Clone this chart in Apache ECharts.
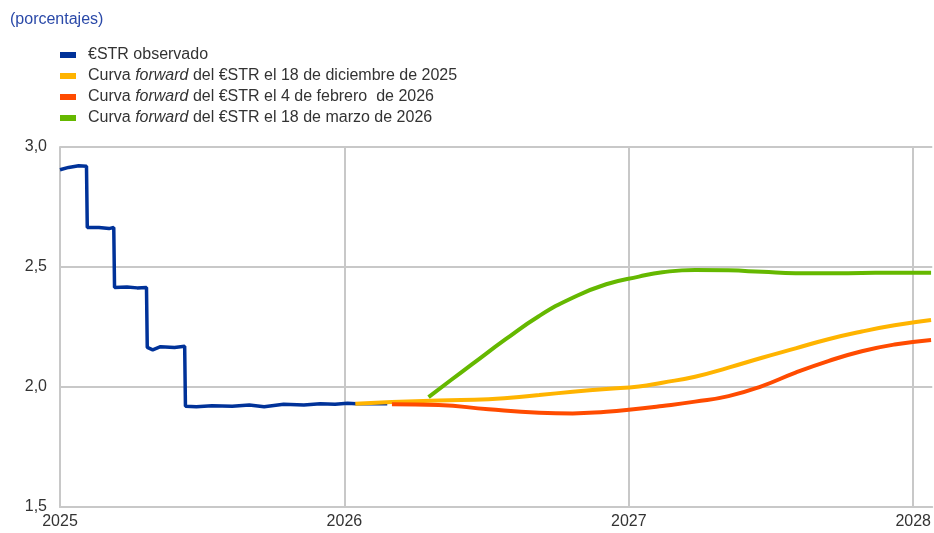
<!DOCTYPE html>
<html>
<head>
    <meta charset="utf-8">
    <title>ESTR</title>
    <script src="https://cdn.jsdelivr.net/npm/echarts@6/dist/echarts.min.js"></script>
</head>
<body style="margin:0">
    <div id="main" style="width:934px;height:533px;"></div>
    <script type="text/javascript">
        // nombres de las series
        var seriesNames = [
            '€STR observado',
            'Curva forward del €STR el 18 de diciembre de 2025',
            'Curva forward del €STR el 4 de febrero  de 2026',
            'Curva forward del €STR el 18 de marzo de 2026'
        ];
        var yearTicks = [2025, 2026, 2027, 2028];

        // €STR observado (fecha, %)
        var observado = [
            ['2025-01-01', 2.905], ['2025-01-12', 2.915], ['2025-01-25', 2.922], ['2025-02-04', 2.92],
            ['2025-02-05', 2.665], ['2025-02-20', 2.665], ['2025-03-05', 2.66], ['2025-03-11', 2.665],
            ['2025-03-12', 2.415], ['2025-03-28', 2.417], ['2025-04-10', 2.413], ['2025-04-22', 2.415],
            ['2025-04-23', 2.165], ['2025-04-30', 2.155], ['2025-05-10', 2.168], ['2025-05-28', 2.165], ['2025-06-10', 2.17],
            ['2025-06-11', 1.92], ['2025-06-25', 1.918], ['2025-07-15', 1.922], ['2025-08-10', 1.92],
            ['2025-09-01', 1.925], ['2025-09-20', 1.918], ['2025-10-15', 1.928], ['2025-11-10', 1.925],
            ['2025-12-01', 1.93], ['2025-12-20', 1.928], ['2026-01-05', 1.932], ['2026-01-16', 1.93],
            ['2026-02-25', 1.93]
        ];

        // curva forward 18 dic 2025
        var fwdDic = [
            ['2026-01-15', 1.93], ['2026-03-03', 1.937], ['2026-05-02', 1.944], ['2026-07-05', 1.949],
            ['2026-09-08', 1.967], ['2026-10-21', 1.98], ['2026-12-03', 1.992], ['2027-01-14', 2.002],
            ['2027-02-13', 2.018], ['2027-03-27', 2.043], ['2027-05-09', 2.081], ['2027-06-21', 2.122],
            ['2027-08-03', 2.161], ['2027-09-14', 2.199], ['2027-10-27', 2.231], ['2027-12-08', 2.257],
            ['2028-01-24', 2.279]
        ];

        // curva forward 4 feb 2026
        var fwdFeb = [
            ['2026-03-03', 1.928], ['2026-05-02', 1.925], ['2026-07-05', 1.907], ['2026-09-08', 1.893],
            ['2026-10-21', 1.89], ['2026-12-03', 1.897], ['2027-01-01', 1.905], ['2027-02-13', 1.921],
            ['2027-03-27', 1.939], ['2027-05-09', 1.962], ['2027-06-21', 2.004], ['2027-08-03', 2.06],
            ['2027-09-14', 2.108], ['2027-10-27', 2.149], ['2027-12-08', 2.177], ['2028-01-24', 2.196]
        ];

        // curva forward 18 mar 2026
        var fwdMar = [
            ['2026-04-19', 1.958], ['2026-05-17', 2.027], ['2026-06-14', 2.095], ['2026-07-27', 2.199],
            ['2026-09-08', 2.296], ['2026-10-21', 2.372], ['2026-12-03', 2.428], ['2027-01-14', 2.46],
            ['2027-02-13', 2.478], ['2027-03-27', 2.488], ['2027-05-09', 2.486], ['2027-06-21', 2.48],
            ['2027-08-03', 2.474], ['2027-09-14', 2.474], ['2027-10-27', 2.475], ['2027-12-08', 2.476],
            ['2028-01-24', 2.476]
        ];

        var colors = ['#003299', '#ffb400', '#ff4b00', '#65b800'];

        // fecha -> año decimal
        function toYear(s) {
            var y = +s.slice(0, 4);
            var d = Date.UTC(y, +s.slice(5, 7) - 1, +s.slice(8, 10));
            var a = Date.UTC(y, 0, 1), b = Date.UTC(y + 1, 0, 1);
            return y + (d - a) / (b - a);
        }
        function conv(arr) {
            return arr.map(function (p) { return [toYear(p[0]), p[1]]; });
        }

        var font = '"Liberation Sans", Arial, sans-serif';
        var chart = echarts.init(document.getElementById('main'));
        var option = {
            animation: false,
            color: colors,
            title: {
                text: '(porcentajes)',
                left: 5, top: 7,
                textStyle: { color: '#2a49a8', fontSize: 16, fontWeight: 'normal', fontFamily: font }
            },
            legend: {
                orient: 'vertical',
                left: 55, top: 42,
                icon: 'rect',
                itemWidth: 16, itemHeight: 6,
                itemGap: 5,
                data: seriesNames,
                formatter: function (name) { return name.replace('forward', '{i|forward}'); },
                textStyle: {
                    color: '#333', fontSize: 16, fontFamily: font, lineHeight: 16,
                    padding: [0, 0, 0, 7],
                    rich: { i: { fontStyle: 'italic', fontSize: 16, fontFamily: font, color: '#333' } }
                }
            },
            grid: { left: 60, right: 0, top: 147, bottom: 26, containLabel: false },
            xAxis: {
                type: 'value',
                min: yearTicks[0],
                max: 2028.067,
                interval: 1,
                axisLine: { show: true, lineStyle: { color: '#c8c8c8', width: 2 } },
                axisTick: { show: false },
                splitLine: { show: true, showMaxLine: false, lineStyle: { color: '#c8c8c8', width: 2 } },
                axisLabel: {
                    color: '#333', fontSize: 16, fontFamily: font, margin: 7,
                    showMaxLabel: false,
                    formatter: function (v) { return yearTicks.indexOf(v) >= 0 ? String(v) : ''; }
                }
            },
            yAxis: {
                type: 'value',
                min: 1.5, max: 3.0, interval: 0.5,
                axisLine: { show: true, lineStyle: { color: '#c8c8c8', width: 2 } },
                axisTick: { show: false },
                splitLine: { show: true, lineStyle: { color: '#c8c8c8', width: 2 } },
                axisLabel: {
                    color: '#333', fontSize: 16, fontFamily: font, margin: 13,
                    formatter: function (v) { return v.toFixed(1).replace('.', ','); }
                }
            },
            series: [
                { name: seriesNames[0], type: 'line', data: conv(observado), showSymbol: false,
                  lineStyle: { width: 3.5 } },
                { name: seriesNames[1], type: 'line', data: conv(fwdDic), showSymbol: false, smooth: 0.5,
                  lineStyle: { width: 4 } },
                { name: seriesNames[2], type: 'line', data: conv(fwdFeb), showSymbol: false, smooth: 0.5,
                  lineStyle: { width: 4 } },
                { name: seriesNames[3], type: 'line', data: conv(fwdMar), showSymbol: false, smooth: 0.5,
                  lineStyle: { width: 4 } }
            ]
        };
        chart.setOption(option);
    </script>
</body>
</html>
